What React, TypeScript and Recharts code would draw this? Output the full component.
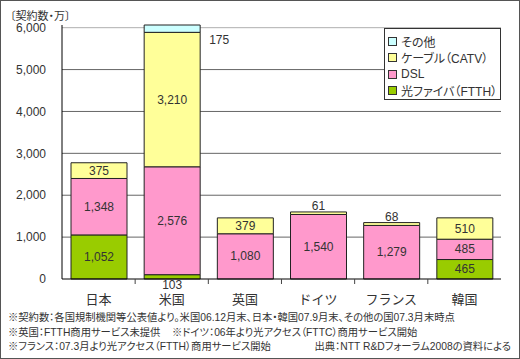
import React from 'react';
import { BarChart, Bar, XAxis, YAxis, CartesianGrid, LabelList } from 'recharts';

const categories = ['日本', '米国', '英国', 'ドイツ', 'フランス', '韓国'];
const ftth = [1052, 103, 0, 0, 0, 465];
const dsl = [1348, 2576, 1080, 1540, 1279, 485];
const catv = [375, 3210, 379, 61, 68, 510];
const other = [0, 175, 0, 0, 0, 0];
const yTicks = [0, 1000, 2000, 3000, 4000, 5000, 6000];
const legendNames = ['その他', 'ケーブル（CATV）', 'DSL', '光ファイバ（FTTH）'];
const legendColors = ['#ccffff', '#ffff99', '#ff99cc', '#99cc00'];
const unitLabel = '〔契約数・万〕';
const notes1 = '※契約数：各国規制機関等公表値より。米国06.12月末、日本・韓国07.9月末、その他の国07.3月末時点';
const notes2a = '※英国：FTTH商用サービス未提供';
const notes2b = '※ドイツ：06年より光アクセス（FTTC）商用サービス開始';
const notes3a = '※フランス：07.3月より光アクセス（FTTH）商用サービス開始';
const notes3b = '出典：NTT R&Dフォーラム2008の資料による';

const data = categories.map((c, i) => ({
  name: c,
  ftth: ftth[i],
  dsl: dsl[i],
  catv: catv[i],
  other: other[i],
}));

const FONT = "'Liberation Sans', 'Noto Sans CJK JP', sans-serif";
const fmt = (v: number) => v.toLocaleString('en-US');

const makeLabel = (kind: string) => (props: any) => {
  const { x, y, width, height, value } = props;
  if (!value) return null;
  let tx = x + width / 2;
  let ty = y + height / 2;
  let anchor: any = 'middle';
  if (Math.abs(height) < 10) {
    if (kind === 'ftth') ty = y + height + 6;
    else if (kind === 'catv') ty = y - 6;
    else if (kind === 'other') {
      tx = x + width + 9;
      ty = y + 15;
      anchor = 'start';
    }
  }
  return (
    <text x={tx} y={ty} textAnchor={anchor} dominantBaseline="central" fontSize={12} fill="#333" fontFamily={FONT}>
      {fmt(value)}
    </text>
  );
};

const XTick = (props: any) => {
  const { x, y, payload, index } = props;
  return (
    <g>
      {index > 0 && <line x1={x - 36.6} x2={x - 36.6} y1={y} y2={y + 5} stroke="#444" />}
      <text x={x} y={y + 20} textAnchor="middle" dominantBaseline="central" fontSize={13} fill="#333" fontFamily={FONT}>
        {payload.value}
      </text>
    </g>
  );
};

const noteStyle: React.CSSProperties = {
  position: 'absolute',
  fontSize: 10.3,
  lineHeight: '14px',
  whiteSpace: 'nowrap',
  fontFeatureSettings: '"palt"',
};

export default function App() {
  const stroke = '#222';
  return (
    <div style={{ position: 'absolute', left: 0, top: 0, width: 520, height: 359, background: '#fff', fontFamily: FONT, color: '#333' }}>
      <div style={{ position: 'absolute', left: 0, top: 0 }}>
        <BarChart width={520} height={359} data={data} margin={{ top: 25, right: 19, left: 0, bottom: 50 }} barSize={56}>
          <CartesianGrid yAxisId="l" vertical={false} stroke="#b0b0b0" horizontalValues={[6000]} />
          <CartesianGrid yAxisId="l" vertical={false} stroke="#666" horizontalValues={[1000, 2000, 3000, 4000, 5000]} />
          <XAxis dataKey="name" axisLine={{ stroke: '#000' }} tickLine={false} tickSize={0} tickMargin={0} height={30} tick={<XTick />} interval={0} />
          <YAxis
            yAxisId="l"
            ticks={yTicks}
            domain={[0, 'dataMax']}
            tickFormatter={fmt}
            tick={{ fontSize: 12, fill: '#333', fontFamily: FONT }}
            axisLine={{ stroke: '#000' }}
            tickLine={false}
            tickSize={0}
            tickMargin={16}
            width={62}
            interval={0}
          />
          <YAxis yAxisId="r" orientation="right" domain={[0, 1]} tick={false} tickLine={false} axisLine={{ stroke: '#b0b0b0' }} width={0} />
          <Bar yAxisId="l" dataKey="ftth" stackId="a" fill="#99cc00" stroke={stroke} isAnimationActive={false}>
            <LabelList dataKey="ftth" content={makeLabel('ftth')} />
          </Bar>
          <Bar yAxisId="l" dataKey="dsl" stackId="a" fill="#ff99cc" stroke={stroke} isAnimationActive={false}>
            <LabelList dataKey="dsl" content={makeLabel('dsl')} />
          </Bar>
          <Bar yAxisId="l" dataKey="catv" stackId="a" fill="#ffff99" stroke={stroke} isAnimationActive={false}>
            <LabelList dataKey="catv" content={makeLabel('catv')} />
          </Bar>
          <Bar yAxisId="l" dataKey="other" stackId="a" fill="#ccffff" stroke={stroke} isAnimationActive={false}>
            <LabelList dataKey="other" content={makeLabel('other')} />
          </Bar>
        </BarChart>
      </div>
      <div style={{ position: 'absolute', left: 10, top: 9, fontSize: 11, lineHeight: '14px', whiteSpace: 'nowrap', fontFeatureSettings: '"palt"' }}>
        {unitLabel}
      </div>
      <div
        style={{
          position: 'absolute',
          left: 384,
          top: 28,
          width: 117,
          height: 72,
          boxSizing: 'border-box',
          border: '1px solid #333',
          background: '#fff',
          paddingTop: 4,
        }}
      >
        {legendNames.map((n, i) => (
          <div key={n} style={{ display: 'flex', alignItems: 'center', height: 16.5, fontSize: 12, whiteSpace: 'nowrap', fontFeatureSettings: '"palt"' }}>
            <span style={{ display: 'inline-block', width: 7, height: 7, border: '1px solid #333', background: legendColors[i], marginLeft: 3, marginRight: 4 }} />
            <span>{n}</span>
          </div>
        ))}
      </div>
      <div style={{ ...noteStyle, left: 8, top: 311 }}>{notes1}</div>
      <div style={{ ...noteStyle, left: 8, top: 326 }}>{notes2a}</div>
      <div style={{ ...noteStyle, left: 172, top: 326 }}>{notes2b}</div>
      <div style={{ ...noteStyle, left: 8, top: 340 }}>{notes3a}</div>
      <div style={{ ...noteStyle, right: 9, top: 340 }}>{notes3b}</div>
      <div style={{ position: 'absolute', left: 0, top: 0, width: 520, height: 359, boxSizing: 'border-box', border: '1px solid #555', pointerEvents: 'none' }} />
    </div>
  );
}
